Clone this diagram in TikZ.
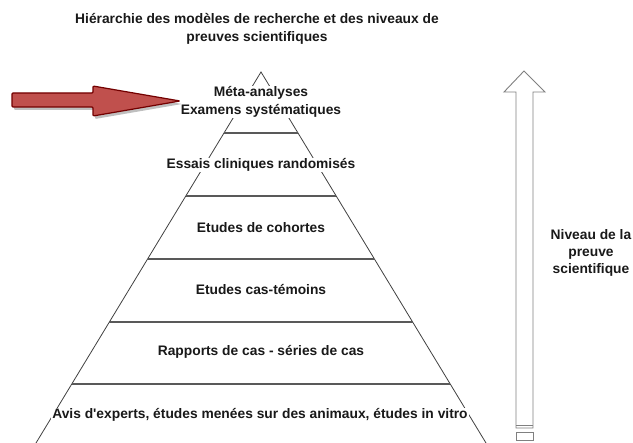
\documentclass[tikz,border=0pt]{standalone}
\usepackage{fontspec}
\setmainfont{Liberation Sans}[BoldFont={Liberation Sans Bold}]
\begin{document}
\begin{tikzpicture}[x=1pt,y=-1pt,
  lbl/.style={font=\bfseries\fontsize{13.8}{17.3}\selectfont, text=black!90, fill=white, inner sep=1pt, align=center},
  side/.style={draw=black!75, line width=0.8pt},
  level/.style={draw=black!65, line width=1.8pt},
  hollow/.style={draw=black!50, line width=0.9pt, fill=white}]
\useasboundingbox (0,0) rectangle (633,443);
% pyramid sides
\coordinate (apex) at (261,72);
\coordinate (bl) at (36,443);
\coordinate (br) at (486,443);
\draw[side] (bl) -- (apex) -- (br);
% levels
\draw[level] (224,133) -- (298,133);
\draw[level] (186,196) -- (336,196);
\draw[level] (148,259) -- (374,259);
\draw[level] (109,322) -- (413,322);
\draw[level] (72,384) -- (450,384);
% labels
\node[lbl] (title) at (257,29) {Hiérarchie des modèles de recherche et des niveaux de\\preuves scientifiques};
\node[lbl] (meta) at (261,102) {Méta-analyses\\Examens systématiques};
\node[lbl] (essais) at (261,165) {Essais cliniques randomisés};
\node[lbl] (coh) at (261,228) {Etudes de cohortes};
\node[lbl] (cas) at (261,290) {Etudes cas-témoins};
\node[lbl] (rap) at (261,352) {Rapports de cas - séries de cas};
\node[lbl] (avis) at (260,415) {Avis d\textquotesingle experts, études menées sur des animaux, études in vitro};
% red arrow
\fill[black!25, rounded corners=1pt] (14,96) -- (95,96) -- (95,89) -- (182,104) -- (95,119) -- (95,110) -- (14,110) -- cycle;
\draw[draw=red!45!black, fill={rgb,255:red,192;green,80;blue,77}, line width=1.2pt, rounded corners=1pt]
  (12,93) -- (93,93) -- (93,86) -- (180,101) -- (93,116) -- (93,107) -- (12,107) -- cycle;
% hollow level arrow
\draw[hollow] (516,428) -- (516,92) -- (504,92) -- (524,71) -- (545,92) -- (533,92) -- (533,428) -- cycle;
\draw[hollow] (516,425) -- (533,425);
\draw[hollow] (516,432) rectangle (533,440);
\node[lbl, fill=none] (niv) at (591,253) {Niveau de la\\preuve\\scientifique};
\end{tikzpicture}
\end{document}
